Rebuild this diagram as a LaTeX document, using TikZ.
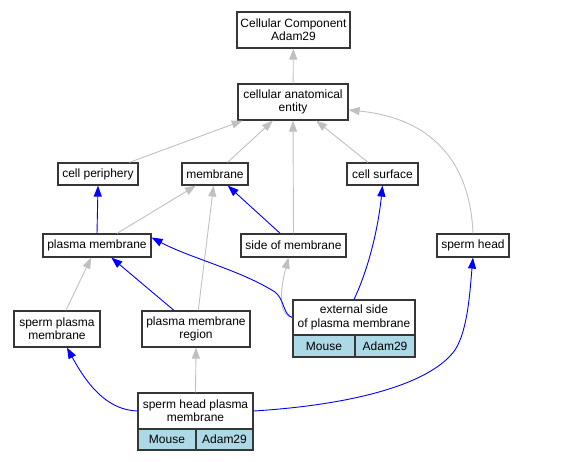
\documentclass[tikz,border=0pt]{standalone}
\usepackage{fontspec}
\setmainfont{Liberation Sans}
\usepackage{xcolor}
\usetikzlibrary{arrows.meta}

\definecolor{edgegrey}{HTML}{C0C0C0}
\definecolor{speciesblue}{HTML}{ADD8E6}
\definecolor{framegrey}{HTML}{363636}

\tikzset{
	termbox/.style={draw=framegrey, line width=1.2pt, fill=white, inner sep=0pt,
		align=center, font=\fontsize{12}{13.3}\selectfont},
	cellbox/.style={termbox, fill=speciesblue},
	greyedge/.style={draw=edgegrey, line width=0.9pt, -{Triangle[length=11pt,width=8pt]}},
	blueedge/.style={greyedge, draw=blue},
}

\begin{document}
\begin{tikzpicture}[x=1pt,y=-1pt]
					% We will draw the term graph here
					\useasboundingbox (0,0) rectangle (565,461);
					
					% terms
					\node[termbox, minimum width=113pt, minimum height=36pt] (cc) at (293.5,30) {Cellular Component\\Adam29};
					\node[termbox, minimum width=110pt, minimum height=36pt] (cae) at (293,102) {cellular anatomical\\entity};
					\node[termbox, minimum width=80pt, minimum height=22pt] (periph) at (98,174) {cell periphery};
					\node[termbox, minimum width=66pt, minimum height=22pt] (memb) at (215,174) {membrane};
					\node[termbox, minimum width=71pt, minimum height=22pt] (surf) at (382.5,174) {cell surface};
					\node[termbox, minimum width=108pt, minimum height=23pt] (pm) at (97,245.5) {plasma membrane};
					\node[termbox, minimum width=105pt, minimum height=23pt] (side) at (293.5,245.5) {side of membrane};
					\node[termbox, minimum width=72pt, minimum height=23pt] (head) at (473,245.5) {sperm head};
					\node[termbox, minimum width=86pt, minimum height=36pt] (spm) at (57,329) {sperm plasma\\membrane};
					\node[termbox, minimum width=108pt, minimum height=36pt] (pmr) at (196,329) {plasma membrane\\region};
					
					% annotated terms with species rows
					\node[termbox, minimum width=122pt, minimum height=35pt] (ext) at (354,317.5) {external side\\of plasma membrane};
					\node[cellbox, minimum width=62pt, minimum height=22pt] (extmouse) at (324,346) {Mouse};
					\node[cellbox, minimum width=60pt, minimum height=22pt] (extgene) at (385,346) {Adam29};
					\node[termbox, minimum width=115pt, minimum height=36pt] (shpm) at (195.5,411) {sperm head plasma\\membrane};
					\node[cellbox, minimum width=58pt, minimum height=21pt] (shpmmouse) at (167,439.5) {Mouse};
					\node[cellbox, minimum width=57pt, minimum height=21pt] (shpmgene) at (224.5,439.5) {Adam29};
					
					% grey edges
					\draw[greyedge] (cae) -- (cc);
					\draw[greyedge] (periph) -- (cae);
					\draw[greyedge] (memb) -- (cae);
					\draw[greyedge] (side.north) -- (cae.south);
					\draw[greyedge] (surf) -- (cae);
					\draw[greyedge] (head.north) .. controls (470,160) and (430,118) .. ([yshift=-8pt]cae.east);
					\draw[greyedge] (pm) -- (memb);
					\draw[greyedge] (pmr) -- (memb);
					\draw[greyedge] (spm) -- (pm);
					\draw[greyedge] (ext.west) .. controls (278,316) and (280,290) .. ([xshift=-5pt]side.south);
					\draw[greyedge] (shpm.north) -- (pmr.south);
					
					% blue edges
					\draw[blueedge] (pm.north) -- (periph.south);
					\draw[blueedge] (side) -- (memb);
					\draw[blueedge] (pmr) -- (pm);
					\draw[blueedge] (ext.north) .. controls (368,270) and (378,230) .. (surf.south);
					\draw[blueedge] (ext.west) .. controls (283,315) and (285,300) .. (275,292)
						.. controls (240,270) and (190,258) .. ([yshift=8pt]pm.east);
					\draw[blueedge] (shpm.west) .. controls (110,410) and (90,390) .. ([xshift=10pt]spm.south);
					\draw[blueedge] (shpm.east) .. controls (350,405) and (430,385) .. (455,350)
						.. controls (468,330) and (470,290) .. (head.south);
					
				\end{tikzpicture}
\end{document}
